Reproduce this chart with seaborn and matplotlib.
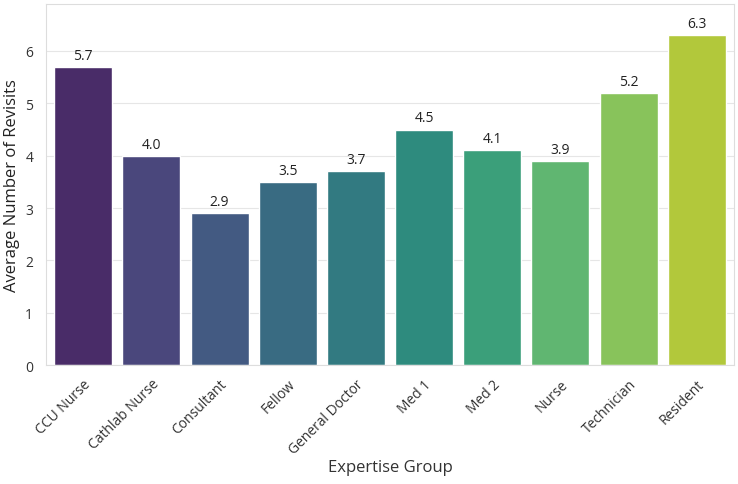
import pandas as pd
import matplotlib
matplotlib.use("Agg")
import matplotlib.pyplot as plt
import seaborn as sns

# average revisits per expertise group
groups = ["CCU Nurse", "Cathlab Nurse", "Consultant", "Fellow", "General Doctor",
          "Med 1", "Med 2", "Nurse", "Technician", "Resident"]
revisits = [5.7, 4.0, 2.9, 3.5, 3.7, 4.5, 4.1, 3.9, 5.2, 6.3]

df = pd.DataFrame({"group": groups, "revisits": revisits})

sns.set_theme(style="whitegrid")
plt.rcParams["font.family"] = ["Open Sans", "DejaVu Sans"]

fig, ax = plt.subplots(figsize=(7.38, 4.85), dpi=100)

sns.barplot(data=df, x="group", y="revisits", hue="group", palette="viridis",
            legend=False, width=0.85, ax=ax)

for c in ax.containers:
    ax.bar_label(c, fmt="%.1f", padding=3, fontsize=10, color="#222222")

ax.set_ylim(0, 6.9)
ax.set_xlim(-0.55, 9.55)
ax.xaxis.grid(False)
ax.yaxis.grid(True, color="#e6e6e6", linewidth=0.8)
for s in ax.spines.values():
    s.set_color("#dddddd")
    s.set_linewidth(0.8)

ax.set_xlabel("Expertise Group", fontsize=12, color="#333333", labelpad=2)
ax.set_ylabel("Average Number of Revisits", fontsize=12, color="#222222", labelpad=4)
ax.tick_params(axis="y", labelsize=10, colors="#333333", pad=3)
ax.tick_params(axis="x", labelsize=10, colors="#333333", pad=2)
plt.setp(ax.get_xticklabels(), rotation=45, ha="right", rotation_mode="anchor")

plt.subplots_adjust(left=0.062, right=0.995, top=0.99, bottom=0.245)
plt.savefig("out.png", dpi=100)
